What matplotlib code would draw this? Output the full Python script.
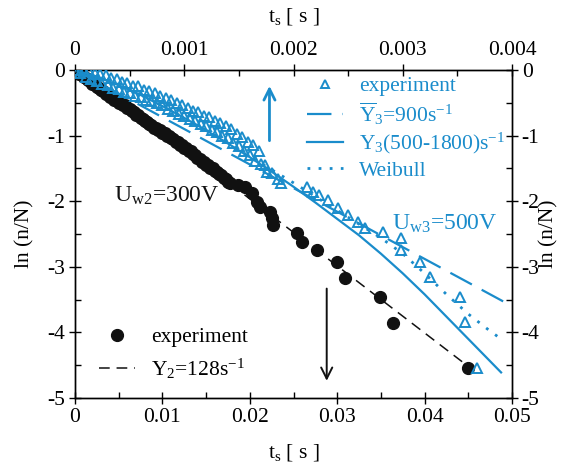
import matplotlib
matplotlib.use("Agg")
import matplotlib.pyplot as plt
from matplotlib.ticker import MultipleLocator

plt.rcParams["font.family"] = ["Liberation Serif", "DejaVu Serif"]
plt.rcParams["mathtext.fontset"] = "custom"
plt.rcParams["mathtext.rm"] = "Liberation Serif"
plt.rcParams["mathtext.it"] = "Liberation Serif:italic"
plt.rcParams["axes.unicode_minus"] = False

BLUE = "#1a8ccb"
BLACK = "#111111"

# U_w2 = 300 V, bottom time axis (s)
t2_exp = [0.00000, 0.00025, 0.00050, 0.00075, 0.00100, 0.00125, 0.00150, 0.00175,
          0.00200, 0.00225, 0.00250, 0.00275, 0.00300, 0.00325, 0.00350, 0.00375,
          0.00400, 0.00425, 0.00450, 0.00475, 0.00500, 0.00525, 0.00550, 0.00575,
          0.00600, 0.00625, 0.00650, 0.00675, 0.00700, 0.00725, 0.00750, 0.00775,
          0.00800, 0.00825, 0.00850, 0.00875, 0.00900, 0.00925, 0.00950, 0.00975,
          0.01000, 0.01025, 0.01050, 0.01075, 0.01100, 0.01125, 0.01150, 0.01175,
          0.01200, 0.01225, 0.01250, 0.01275, 0.01300, 0.01325, 0.01350, 0.01375,
          0.01400, 0.01425, 0.01450, 0.01475, 0.01500, 0.01525, 0.01550, 0.01575,
          0.01600, 0.01625, 0.01650, 0.01675, 0.01700, 0.01725, 0.01750, 0.01770,
          0.0187, 0.0195, 0.0203, 0.0208,
          0.0212, 0.0223, 0.0225, 0.0227, 0.0254, 0.0260, 0.0277, 0.0300, 0.0309,
          0.0349, 0.0364, 0.0450]
y2_exp = [0.00, -0.02, -0.06, -0.07, -0.11, -0.12, -0.16, -0.17,
          -0.21, -0.22, -0.26, -0.27, -0.31, -0.32, -0.36, -0.37,
          -0.41, -0.41, -0.45, -0.46, -0.50, -0.50, -0.54, -0.54,
          -0.58, -0.59, -0.63, -0.64, -0.68, -0.69, -0.73, -0.74,
          -0.78, -0.79, -0.83, -0.84, -0.88, -0.88, -0.92, -0.92,
          -0.96, -0.96, -1.00, -1.00, -1.04, -1.05, -1.09, -1.10,
          -1.14, -1.15, -1.19, -1.19, -1.23, -1.24, -1.28, -1.29,
          -1.34, -1.35, -1.40, -1.41, -1.45, -1.45, -1.49, -1.50,
          -1.54, -1.55, -1.59, -1.60, -1.65, -1.66, -1.71, -1.72,
          -1.76, -1.78, -1.88, -2.01,
          -2.09, -2.16, -2.26, -2.36, -2.48, -2.62, -2.74, -2.93, -3.17,
          -3.46, -3.86, -4.54]
t2_fit = [0.0178, 0.0455]
y2_fit = [-1.74, -4.57]

# U_w3 = 500 V, top time axis (s)
t3_exp = [0.00000, 0.00005, 0.00010, 0.00015, 0.00020, 0.00025, 0.00030, 0.00035,
          0.00040, 0.00045, 0.00050, 0.00055, 0.00060, 0.00065, 0.00070, 0.00075,
          0.00080, 0.00085, 0.00090, 0.00095, 0.00100, 0.00105, 0.00110, 0.00115,
          0.00120, 0.00125, 0.00130, 0.00135, 0.00140, 0.00145, 0.00150, 0.00155,
          0.00160, 0.00165, 0.00170,
          0.00003, 0.00008, 0.00013, 0.00018, 0.00023, 0.00028, 0.00033, 0.00038,
          0.00043, 0.00048, 0.00053, 0.00058, 0.00063, 0.00068, 0.00073, 0.00078,
          0.00083, 0.00088, 0.00093, 0.00098, 0.00103, 0.00108, 0.00113, 0.00118,
          0.00123, 0.00128, 0.00133, 0.00138, 0.00143, 0.00148, 0.00153, 0.00158,
          0.00163, 0.00168,
          0.00174, 0.00176, 0.00180, 0.00186, 0.00189, 0.00212, 0.00218, 0.00223,
          0.00232, 0.00241, 0.00250, 0.00259, 0.00265, 0.00282, 0.00298, 0.00298,
          0.00316, 0.00325, 0.00352, 0.00357, 0.00368]
y3_exp = [0.00, -0.05, -0.10, -0.14, -0.17, -0.21, -0.23, -0.28,
          -0.29, -0.33, -0.35, -0.39, -0.41, -0.45, -0.47, -0.51,
          -0.54, -0.59, -0.62, -0.67, -0.70, -0.75, -0.78, -0.83,
          -0.86, -0.91, -0.94, -1.00, -1.04, -1.11, -1.16, -1.24,
          -1.30, -1.38, -1.44,
          0.00, -0.01, -0.02, -0.04, -0.06, -0.08, -0.12, -0.13,
          -0.18, -0.20, -0.24, -0.25, -0.30, -0.32, -0.35, -0.39,
          -0.43, -0.45, -0.51, -0.53, -0.58, -0.62, -0.64, -0.70,
          -0.72, -0.78, -0.81, -0.86, -0.90, -0.97, -1.02, -1.09,
          -1.15, -1.23,
          -1.45, -1.55, -1.57, -1.66, -1.72, -1.78, -1.86, -1.90,
          -1.98, -2.10, -2.21, -2.32, -2.41, -2.47, -2.56, -2.74,
          -2.93, -3.16, -3.46, -3.84, -4.54]

# model curves on the top axis
t3_mean = [0.0000, 0.0040]
y3_mean = [0.00, -3.60]
t3_var = [0.0000, 0.0002, 0.0004, 0.0006, 0.0008, 0.0010, 0.0012, 0.0014, 0.0016,
          0.0018, 0.0020, 0.0022, 0.0024, 0.0026, 0.0028, 0.0030, 0.0032, 0.0034,
          0.0036, 0.0038, 0.0039]
y3_var = [0.00, -0.10, -0.23, -0.38, -0.55, -0.73, -0.92, -1.12, -1.33,
          -1.55, -1.78, -2.02, -2.27, -2.52, -2.80, -3.10, -3.42, -3.76,
          -4.10, -4.44, -4.61]
t3_weib = [0.0000, 0.0002, 0.0004, 0.0006, 0.0008, 0.0010, 0.0012, 0.0014, 0.0016,
           0.0018, 0.0020, 0.0022, 0.0024, 0.0026, 0.0028, 0.0030, 0.0032, 0.0034,
           0.0036, 0.0038, 0.0039]
y3_weib = [0.00, -0.08, -0.22, -0.38, -0.55, -0.73, -0.92, -1.12, -1.32,
           -1.52, -1.72, -1.93, -2.14, -2.35, -2.56, -2.80, -3.10, -3.42,
           -3.72, -3.98, -4.10]

fig = plt.figure(figsize=(5.65, 4.68), dpi=100)
ax = fig.add_axes([75 / 565, 70 / 468, 437 / 565, 328 / 468])
ax2 = ax.twiny()

FS = 15.5
FS_NOTE = 17

# bottom axis: 300 V
ax.plot(t2_exp, y2_exp, "o", color=BLACK, ms=8.5, mec=BLACK, label="experiment",
        zorder=3)
ax.plot(t2_fit, y2_fit, color=BLACK, lw=1.1, dashes=(7, 4.5),
        label=r"Y$_2$=128s$^{-1}$")
ax.set_xlim(0, 0.05)
ax.set_ylim(-5, 0)
ax.set_xticks([0, 0.01, 0.02, 0.03, 0.04, 0.05])
ax.set_xticklabels(["0", "0.01", "0.02", "0.03", "0.04", "0.05"])
ax.xaxis.set_minor_locator(MultipleLocator(0.005))
ax.set_yticks([0, -1, -2, -3, -4, -5])
ax.set_yticklabels(["0", "-1", "-2", "-3", "-4", "-5"])
ax.yaxis.set_minor_locator(MultipleLocator(0.5))
ax.tick_params(which="major", direction="inout", length=8, width=1,
               labelsize=FS, right=True, labelright=True, pad=3)
ax.tick_params(which="minor", direction="in", length=4, width=1, right=True)
ax.set_xlabel(r"t$_\mathrm{s}$ [ s ]", fontsize=FS, labelpad=11)
ax.set_ylabel("ln (n/N)", fontsize=FS, labelpad=9)
ax.text(1.085, 0.5, "ln (n/N)", transform=ax.transAxes, rotation=90,
        fontsize=FS, va="center", ha="center")

# top axis: 500 V
ax2.plot(t3_exp, y3_exp, "^", color=BLUE, mfc="none", mew=1.4, ms=7.5,
         label="experiment", zorder=3)
ax2.plot(t3_mean, y3_mean, color=BLUE, lw=1.6, dashes=(11, 5),
         label=r"$\overline{\mathrm{Y}}_3$=900s$^{-1}$")
ax2.plot(t3_var, y3_var, "-", color=BLUE, lw=1.6,
         label=r"Y$_3$(500-1800)s$^{-1}$")
ax2.plot(t3_weib, y3_weib, color=BLUE, lw=2.0, dashes=(1, 3), label="Weibull")
ax2.set_xlim(0, 0.004)
ax2.set_xticks([0, 0.001, 0.002, 0.003, 0.004])
ax2.set_xticklabels(["0", "0.001", "0.002", "0.003", "0.004"])
ax2.xaxis.set_minor_locator(MultipleLocator(0.0005))
ax2.tick_params(which="major", direction="inout", length=8, width=1,
                labelsize=FS, pad=3)
ax2.tick_params(which="minor", direction="in", length=4, width=1)
ax2.set_xlabel(r"t$_\mathrm{s}$ [ s ]", fontsize=FS, labelpad=14)

for a in (ax, ax2):
    for s in a.spines.values():
        s.set_linewidth(1.0)

# arrows and annotations
ax2.annotate("", xy=(0.00178, -0.20), xytext=(0.00178, -1.12),
             arrowprops=dict(arrowstyle="->", color=BLUE, lw=2.0,
                             mutation_scale=20))
ax.annotate("", xy=(0.0288, -4.78), xytext=(0.0288, -3.29),
            arrowprops=dict(arrowstyle="->", color=BLACK, lw=1.4,
                            mutation_scale=20))
ax.text(0.0045, -2.0, r"U$_\mathrm{w2}$=300V", fontsize=FS_NOTE, color=BLACK)
ax2.text(0.00290, -2.43, r"U$_\mathrm{w3}$=500V", fontsize=FS_NOTE, color=BLUE)

ax2.legend(loc="upper left", bbox_to_anchor=(307 / 565, 1 - 76 / 468),
           bbox_transform=fig.transFigure, frameon=False, fontsize=FS,
           labelcolor=BLUE, handlelength=1.65, handletextpad=0.75,
           labelspacing=0.2, borderpad=0, borderaxespad=0, markerscale=0.8)
ax.legend(loc="upper left", bbox_to_anchor=(99 / 565, 1 - 327 / 468),
          bbox_transform=fig.transFigure, frameon=False, fontsize=FS,
          handlelength=1.65, handletextpad=0.75, labelspacing=0.45,
          borderpad=0, borderaxespad=0)

fig.savefig("out.png", dpi=100)
